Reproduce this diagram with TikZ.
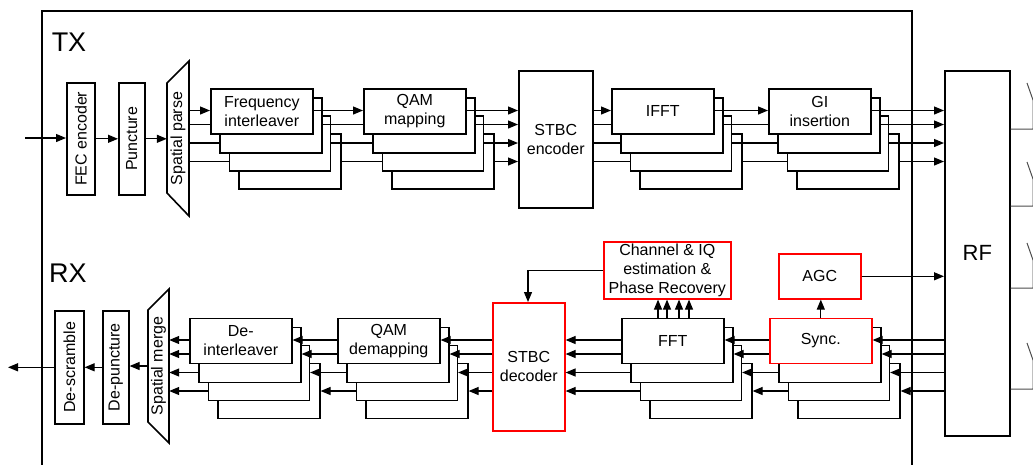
\documentclass[tikz,border=0pt]{standalone}
\usepackage{fontspec}
\setmainfont{Liberation Sans}
\usetikzlibrary{arrows.meta}
\tikzset{
  blk/.style={draw, line width=1.6pt, fill=white, anchor=north west, inner sep=1pt,
    font=\fontsize{16}{19}\selectfont, align=center},
  bline/.style={line width=1.6pt, fill=white},
  txt/.style={inner sep=0pt, font=\fontsize{16}{19}\selectfont},
  ln/.style={line width=1.2pt},
  arr/.style={ln, -{Triangle[length=10pt,width=8pt]}},
  ant/.style={line width=1pt, black!70},
}
% box by corners: [colour]{name}{x1}{y1}{x2}{y2}{text}
\newcommand{\bx}[7][black]{\node[blk,draw=#1,minimum width={#5-#3},minimum height={#6-#4}] (#2) at (#3,#4) {#7};}
% stack of four boxes: [front colour]{name}{x}{y}{text}
\newcommand{\stk}[5][black]{%
  \node[blk,minimum width=102,minimum height=55] (#24) at ({#3+28},{#4+45}) {};
  \node[blk,minimum width=101,minimum height=55] (#23) at ({#3+18.5},{#4+27}) {};
  \node[blk,minimum width=102,minimum height=55] (#22) at ({#3+9},{#4+9}) {};
  \node[blk,draw=#1,minimum width=102,minimum height=45] (#21) at (#3,#4) {#5};}
% TX stack to stack
\newcommand{\txs}[2]{%
  \draw[arr] (#11.east|-t1) -- (#21.west|-t1);
  \draw[ln] (#12.east|-t2) -- (#21.west|-t2);
  \draw[ln] (#13.east|-t3) -- (#22.west|-t3);
  \draw[ln] (#14.east|-t4) -- (#23.west|-t4);}
% RX stack to stack (right #1 to left #2)
\newcommand{\rxs}[2]{%
  \draw[arr] (#11.west|-r1) -- (#21.east|-r1);
  \draw[arr] (#11.west|-r2) -- (#22.east|-r2);
  \draw[arr] (#12.west|-r3) -- (#23.east|-r3);
  \draw[arr] (#13.west|-r4) -- (#24.east|-r4);}
\begin{document}
\begin{tikzpicture}[x=1pt,y=-1pt]
\useasboundingbox (0,0) rectangle (1033,464);
% line levels
\coordinate (t1) at (0,110.5);
\coordinate (t2) at (0,124.5);
\coordinate (t3) at (0,143);
\coordinate (t4) at (0,161.5);
\coordinate (r1) at (0,340);
\coordinate (r2) at (0,354);
\coordinate (r3) at (0,372.5);
\coordinate (r4) at (0,391);
% outer frame
\draw[line width=1.6pt] (42,470) -- (42,11) -- (912,11) -- (912,470);
\node[inner sep=0pt, font=\fontsize{27}{30}\selectfont] (tx) at (69,42.5) {TX};
\node[inner sep=0pt, font=\fontsize{27}{30}\selectfont] (rx) at (68,273) {RX};
% ---------------- TX ----------------
\bx{fec}{66}{82}{94}{194}{\rotatebox{90}{FEC encoder}}
\bx{pun}{118}{82}{144}{194}{\rotatebox{90}{Puncture}}
\draw[bline] (167,83) -- (189,61) -- (189,216) -- (167,193) -- cycle;
\node[txt, minimum width=22, minimum height=155] (sp) at (178,138.5) {\rotatebox{90}{Spatial parse}};
\stk{fi}{210}{88}{Frequency\\interleaver}
\stk{qm}{363}{88}{QAM\\mapping}
\bx{enc}{518}{70}{592}{207}{STBC\\encoder}
\stk{if}{611}{88}{IFFT}
\stk{gi}{768}{88}{GI\\insertion}
\bx{rf}{944}{70}{1009}{435}{\fontsize{22}{26}\selectfont RF}
% ---------------- RX ----------------
\bx{ds}{54}{310}{83}{423}{\rotatebox{90}{De-scramble}}
\bx{dp}{102}{310}{128}{423}{\rotatebox{90}{De-puncture}}
\draw[bline] (148,310) -- (169,289) -- (169,443) -- (148,422) -- cycle;
\node[txt, minimum width=21, minimum height=154] (sm) at (158.5,366) {\rotatebox{90}{Spatial merge}};
\stk{di}{189}{317.5}{De-\\interleaver}
\stk{qd}{337}{317.5}{QAM\\demapping}
\bx[red]{dec}{492}{302}{564}{430}{STBC\\decoder}
\stk{ff}{621}{317.5}{FFT}
\stk[red]{sy}{769}{317.5}{Sync.}
\bx[red]{ch}{603}{241}{730}{298}{Channel \& IQ\\estimation \&\\Phase Recovery}
\bx[red]{agc}{778}{253}{860}{298}{AGC}
% ---------------- TX connectors ----------------
\coordinate (in) at (25,138);
\draw[arr] (in) -- (in -| fec.west);
\draw[arr] (fec.east) -- (fec.east -| pun.west);
\draw[arr] (pun.east) -- (pun.east -| sp.west);
\draw[arr] (sp.east|-t1) -- (fi1.west|-t1);
\draw[ln] (sp.east|-t2) -- (fi1.west|-t2);
\draw[ln] (sp.east|-t3) -- (fi2.west|-t3);
\draw[ln] (sp.east|-t4) -- (fi3.west|-t4);
\txs{fi}{qm}
\draw[arr] (qm1.east|-t1) -- (enc.west|-t1);
\draw[arr] (qm2.east|-t2) -- (enc.west|-t2);
\draw[arr] (qm3.east|-t3) -- (enc.west|-t3);
\draw[arr] (qm4.east|-t4) -- (enc.west|-t4);
\draw[arr] (enc.east|-t1) -- (if1.west|-t1);
\draw[ln] (enc.east|-t2) -- (if1.west|-t2);
\draw[ln] (enc.east|-t3) -- (if2.west|-t3);
\draw[ln] (enc.east|-t4) -- (if3.west|-t4);
\txs{if}{gi}
\draw[arr] (gi1.east|-t1) -- (rf.west|-t1);
\draw[arr] (gi2.east|-t2) -- (rf.west|-t2);
\draw[arr] (gi3.east|-t3) -- (rf.west|-t3);
\draw[arr] (gi4.east|-t4) -- (rf.west|-t4);
% ---------------- RX connectors ----------------
\draw[arr] (rf.west|-r1) -- (sy1.east|-r1);
\draw[arr] (rf.west|-r2) -- (sy2.east|-r2);
\draw[arr] (rf.west|-r3) -- (sy3.east|-r3);
\draw[arr] (rf.west|-r4) -- (sy4.east|-r4);
\rxs{sy}{ff}
\draw[arr] (ff1.west|-r1) -- (dec.east|-r1);
\draw[arr] (ff1.west|-r2) -- (dec.east|-r2);
\draw[arr] (ff2.west|-r3) -- (dec.east|-r3);
\draw[arr] (ff3.west|-r4) -- (dec.east|-r4);
\draw[arr] (dec.west|-r1) -- (qd1.east|-r1);
\draw[arr] (dec.west|-r2) -- (qd2.east|-r2);
\draw[arr] (dec.west|-r3) -- (qd3.east|-r3);
\draw[arr] (dec.west|-r4) -- (qd4.east|-r4);
\rxs{qd}{di}
\draw[arr] (di1.west|-r1) -- (sm.east|-r1);
\draw[arr] (di1.west|-r2) -- (sm.east|-r2);
\draw[arr] (di2.west|-r3) -- (sm.east|-r3);
\draw[arr] (di3.west|-r4) -- (sm.east|-r4);
\draw[arr] (sm.west) -- (sm.west -| dp.east);
\draw[arr] (dp.west) -- (dp.west -| ds.east);
\coordinate (out) at (8,366.5);
\draw[arr] (ds.west) -- (ds.west -| out);
% sync / AGC / channel estimation
\draw[arr] (sy1.north) -- (sy1.north |- agc.south);
\draw[arr] (agc.east) -- (agc.east -| rf.west);
\foreach \xx in {658,667,679,689}{
  \coordinate (c) at (\xx,0);
  \draw[arr] (c |- ff1.north) -- (c |- ch.south);
}
\coordinate (cd) at (528,0);
\draw[arr] (ch.west) -- (ch.west -| cd) -- (cd |- dec.north);
% antennas
\foreach \ya/\yt in {129/83, 206/162, 288/243, 389/343}{
  \coordinate (a) at (1033,\ya);
  \draw[ant] (rf.east |- a) -- (a) -- ++(0,{\yt+17-\ya}) -- ++(-6,-17) ++(6,17) -- ++(6,-17);
}
\end{tikzpicture}
\end{document}
